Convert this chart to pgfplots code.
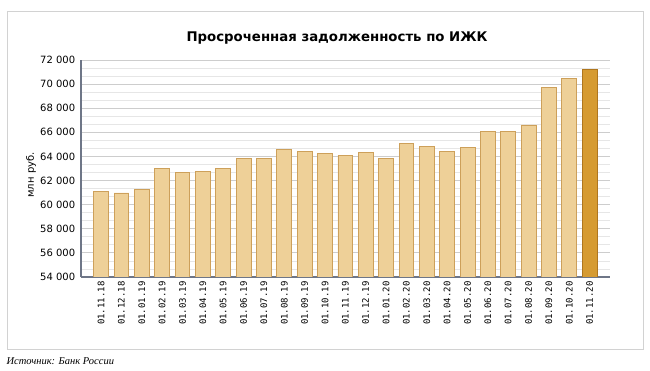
\documentclass[border=0pt]{standalone}
\usepackage{fontspec}
\setmainfont{DejaVu Sans}
\newfontfamily\monofont{DejaVu Sans Mono}
\newfontfamily\srcfont{Liberation Serif}
\usepackage{pgfplots}
\pgfplotsset{compat=1.18}
\definecolor{barfill}{RGB}{238,208,152}
\definecolor{barline}{RGB}{205,160,90}
\definecolor{lastfill}{RGB}{214,155,50}
\definecolor{lastline}{RGB}{175,118,30}
\definecolor{axline}{RGB}{110,118,135}
\begin{document}
\begin{tikzpicture}[x=1pt,y=1pt]
\path[use as bounding box] (0pt,0pt) rectangle (650pt,371pt);
\draw[gray!35, line width=1pt] (7pt,359pt) rectangle (643pt,21.5pt);
\node[font=\bfseries\fontsize{13.3}{15}\selectfont] at (337pt,333pt) {Просроченная задолженность по ИЖК};
\node[anchor=base west, font=\srcfont\itshape\fontsize{10.5}{12}\selectfont] at (3pt,6pt) {Источник: Банк России};
\node[rotate=90, font=\fontsize{10}{11}\selectfont] at (31pt,196pt) {млн руб.};
\begin{axis}[
  at={(80.7pt,94pt)}, anchor=south west,
  scale only axis, width=529.3pt, height=217pt,
  xmin=0, xmax=26, ymin=54000, ymax=72000,
  ytick={54000,56000,...,72000},
  minor y tick num=2,
  ymajorgrids, yminorgrids,
  major grid style={draw={rgb,255:red,205;green,205;blue,205}, line width=0.9pt},
  minor grid style={draw={rgb,255:red,230;green,230;blue,230}, line width=0.7pt},
  axis x line*=bottom, axis y line*=left,
  axis line style={draw=axline, line width=1.6pt, -},
  xtick={1,...,25},
  xticklabels={01.11.18,01.12.18,01.01.19,01.02.19,01.03.19,01.04.19,01.05.19,01.06.19,01.07.19,01.08.19,01.09.19,01.10.19,01.11.19,01.12.19,01.01.20,01.02.20,01.03.20,01.04.20,01.05.20,01.06.20,01.07.20,01.08.20,01.09.20,01.10.20,01.11.20},
  xticklabel style={rotate=90, anchor=east, font=\monofont\fontsize{9}{9}\selectfont, xshift=-1pt},
  yticklabel style={font=\fontsize{10}{12}\selectfont, xshift=-2pt},
  major tick length=0pt, minor tick length=0pt,
  scaled y ticks=false,
  /pgf/number format/.cd, assume math mode=true, 1000 sep={\ },
  /pgfplots/.cd,
  ybar, bar width=14.8pt, bar shift=0pt,
  clip=true,
]
\addplot[fill=barfill, draw=barline, line width=0.8pt] coordinates {
(1,61080) (2,60970) (3,61280) (4,62970) (5,62670) (6,62750) (7,63000) (8,63830)
(9,63800) (10,64610) (11,64390) (12,64220) (13,64080) (14,64360) (15,63860)
(16,65060) (17,64830) (18,64440) (19,64780) (20,66080) (21,66110) (22,66610)
(23,69750) (24,70440)};
\addplot[fill=lastfill, draw=lastline, line width=0.8pt] coordinates {(25,71190)};
\end{axis}
\end{tikzpicture}
\end{document}
